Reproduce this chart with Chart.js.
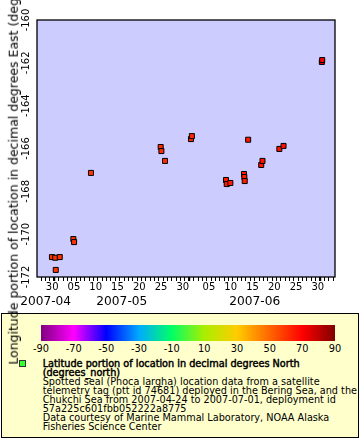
<!DOCTYPE html>
<html><head><meta charset="utf-8">
<script src="https://cdn.jsdelivr.net/npm/chart.js@4/dist/chart.umd.min.js"></script>
<style>
html,body{margin:0;padding:0;background:#fff;}
#wrap{position:relative;width:360px;height:440px;overflow:hidden;font-family:"DejaVu Sans",sans-serif;color:#000;}
#legendBox{position:absolute;left:1px;top:313px;width:358px;height:125px;box-sizing:border-box;border:1px solid #000;background:#ffffcc;}
#cbar{position:absolute;left:41px;top:325px;width:294px;height:16px;}
.cbl{position:absolute;top:343px;font-size:9.8px;line-height:12px;transform:translateX(-50%);white-space:nowrap;}
#mark{position:absolute;left:19px;top:360px;width:5px;height:5px;border:1px solid #333;background:#33ff33;}
#ltext{position:absolute;left:42.7px;top:358.5px;font-size:9.7px;line-height:9.05px;white-space:pre;}
#ltext div{height:9.05px;}
.b{-webkit-text-stroke:0.45px #000;}
#c{position:absolute;left:0;top:0;}
#yt{position:absolute;left:14px;top:148.5px;width:0;height:0;}
#yt div{position:absolute;left:0;top:0;white-space:nowrap;font-size:12.5px;line-height:1;transform:translate(-50%,-50%) rotate(-90deg);}
</style></head>
<body>
<div id="wrap">
  <div id="legendBox"></div>
  <div id="cbar"></div>
  <div id="cblabels"></div>
  <div id="mark"></div>
  <div id="ltext"></div>
  <canvas id="c" width="360" height="440"></canvas>
  <div id="yt"><div id="ytText"></div></div>
</div>
<script>
// ---------- data ----------
const dates = [
  "2007-04-30T11:00","2007-05-01T05:00","2007-05-01T08:00","2007-05-02T06:00",
  "2007-05-05T09:00","2007-05-05T13:00","2007-05-09T10:00",
  "2007-05-25T10:00","2007-05-25T14:00","2007-05-26T10:00",
  "2007-06-01T09:00","2007-06-01T14:00",
  "2007-06-09T10:00","2007-06-09T14:00","2007-06-10T10:00",
  "2007-06-13T13:00","2007-06-13T15:00","2007-06-13T17:00","2007-06-14T12:00",
  "2007-06-17T12:00","2007-06-17T19:00","2007-06-21T16:00","2007-06-22T15:00",
  "2007-07-01T10:00","2007-07-01T12:00"
];
const longitudes = [
  -171.07,-171.10,-171.67,-171.07,
  -170.23,-170.37,-167.14,
  -165.93,-166.12,-166.58,
  -165.56,-165.42,
  -167.47,-167.66,-167.61,
  -167.19,-167.33,-167.52,-165.59,
  -166.77,-166.58,-166.02,-165.88,
  -161.96,-161.87
];
const latitudes = [
  60,60,60,60,
  60,60,60,
  62,62,62,
  62.5,62.5,
  65,65,65,
  65,65,65,66,
  66,66,67,67,
  72,72
];
const yTicks = [-172,-170,-168,-166,-164,-162,-160];
const dayLabelDates = ["2007-04-30T12:00","2007-05-05T12:00","2007-05-10T12:00","2007-05-15T12:00","2007-05-20T12:00","2007-05-25T12:00","2007-05-30T12:00","2007-06-05T12:00","2007-06-10T12:00","2007-06-15T12:00","2007-06-20T12:00","2007-06-25T12:00","2007-06-30T12:00"];
const dayLabels = ["30","05","10","15","20","25","30","05","10","15","20","25","30"];
const monthStarts = ["2007-04-01T00:00","2007-05-01T00:00","2007-06-01T00:00","2007-07-01T00:00"];
const monthLabels = ["2007-04","2007-05","2007-06"];
const colorbarTicks = [-90,-70,-50,-30,-10,10,30,50,70,90];
const xRange = ["2007-04-27T00:40","2007-07-04T10:30"];
const yTitle = "Longitude portion of location in decimal degrees East (degrees_east)";
const legendTitle = ["Latitude portion of location in decimal degrees North","(degrees_north)"];
const legendLines = [
  "Spotted seal (Phoca largha) location data from a satellite",
  "telemetry tag (ptt id 74681) deployed in the Bering Sea, and the",
  "Chukchi Sea from 2007-04-24 to 2007-07-01, deployment id",
  "57a225c601fbb052222a8775",
  "Data courtesy of Marine Mammal Laboratory, NOAA Alaska",
  "Fisheries Science Center"
];
// ---------- palette (style) ----------
const palette = [[-90,'#800080'],[-70,'#ff00ff'],[-50,'#0000ff'],[-30,'#00aaff'],[-10,'#00ff66'],[10,'#aaee00'],[30,'#ffcc00'],[50,'#ff6600'],[70,'#ff0000'],[90,'#800000']];
function hex2rgb(h){return [parseInt(h.substr(1,2),16),parseInt(h.substr(3,2),16),parseInt(h.substr(5,2),16)];}
function colorFor(v){
  if (v<=palette[0][0]) return palette[0][1];
  for (let i=1;i<palette.length;i++){
    if (v<=palette[i][0]){
      const [v0,c0]=palette[i-1],[v1,c1]=palette[i];
      const f=(v-v0)/(v1-v0), a=hex2rgb(c0), b=hex2rgb(c1);
      return 'rgb('+a.map((x,k)=>Math.round(x+(b[k]-x)*f)).join(',')+')';
    }
  }
  return palette[palette.length-1][1];
}
// ---------- legend (HTML) ----------
document.getElementById('cbar').style.background = 'linear-gradient(to right,' +
  palette.map(p => p[1] + ' ' + ((p[0]+90)/180*100).toFixed(2) + '%').join(',') + ')';
const cbl = document.getElementById('cblabels');
colorbarTicks.forEach(v => {
  const s = document.createElement('span'); s.className='cbl';
  s.style.left = (41 + (v+90)/180*294) + 'px'; s.textContent = String(v); cbl.appendChild(s);
});
const lt = document.getElementById('ltext');
legendTitle.forEach(l => { const d=document.createElement('div'); d.className='b'; d.textContent=l; lt.appendChild(d); });
legendLines.forEach(l => { const d=document.createElement('div'); d.textContent=l; lt.appendChild(d); });
document.getElementById('ytText').textContent = yTitle;

// ---------- chart ----------
const t = s => Date.parse(s + 'Z');
const DAY = 86400000;
const xMin = t(xRange[0]), xMax = t(xRange[1]);
const monthStartVals = monthStarts.map(t);
const dayTicks = [];
for (let v = Math.ceil(xMin/DAY)*DAY; v <= xMax; v += DAY) dayTicks.push(v);
const isMonthStart = v => monthStartVals.includes(v);
const monthCenters = monthLabels.map((m,i) => {
  const a = Math.max(xMin, monthStartVals[i]), b = Math.min(xMax, monthStartVals[i+1]);
  return (a+b)/2;
});

Chart.defaults.font.family = "'DejaVu Sans', sans-serif";
Chart.defaults.color = '#000';

const plotFrame = {
  id: 'plotFrame',
  beforeDraw(chart){
    const {ctx, chartArea:a} = chart;
    ctx.save(); ctx.fillStyle = '#ccccff'; ctx.fillRect(a.left, a.top, a.width, a.height); ctx.restore();
  },
  beforeDatasetsDraw(chart){
    const {ctx, chartArea:a} = chart;
    ctx.save(); ctx.strokeStyle = '#000'; ctx.lineWidth = 1.3; ctx.strokeRect(a.left, a.top, a.width, a.height); ctx.restore();
  }
};

const tickW = c => (c.tick && isMonthStart(c.tick.value)) ? 2.2 : 1;

new Chart(document.getElementById('c'), {
  type: 'scatter',
  data: {
    datasets: [{
      data: dates.map((d,i) => ({x: t(d), y: longitudes[i]})),
      pointStyle: 'rect',
      pointRadius: 3.54,
      pointHoverRadius: 3.54,
      pointBackgroundColor: latitudes.map(colorFor),
      pointBorderColor: '#000',
      pointBorderWidth: 1,
      pointHoverBorderWidth: 1,
      showLine: false
    }]
  },
  options: {
    responsive: false,
    animation: false,
    events: [],
    layout: { padding: { top: 20, right: 25, bottom: 130, left: 0 } },
    plugins: { legend: { display: false }, tooltip: { enabled: false } },
    scales: {
      x: {
        type: 'linear', position: 'bottom', min: xMin, max: xMax, weight: 0,
        afterBuildTicks(s){ s.ticks = dayTicks.map(v => ({value: v})); },
        ticks: { display: false, autoSkip: false },
        grid: { display: true, drawOnChartArea: false, drawTicks: true, tickLength: 4, color: '#000', tickColor: '#000', lineWidth: tickW, tickWidth: tickW },
        border: { display: false },
        afterFit(s){ s.height = 4; }
      },
      xLab: {
        type: 'linear', position: 'bottom', min: xMin, max: xMax, weight: 1,
        afterBuildTicks(s){ s.ticks = dayLabelDates.map(d => ({value: t(d)})); },
        ticks: { autoSkip: false, minRotation: 0, maxRotation: 0, padding: 0.3, font: { size: 10 }, color: '#000',
                 callback: (v, i) => dayLabels[i] },
        grid: { display: false, drawTicks: false },
        border: { display: false },
        afterFit(s){ s.height = 12; }
      },
      xMon: {
        type: 'linear', position: 'bottom', min: xMin, max: xMax, weight: 2,
        afterBuildTicks(s){ s.ticks = monthCenters.map(v => ({value: v})); },
        ticks: { autoSkip: false, minRotation: 0, maxRotation: 0, padding: 1.4, font: { size: 12.2 }, color: '#000',
                 callback: (v, i) => monthLabels[i] },
        grid: { display: false, drawTicks: false },
        border: { display: false },
        afterFit(s){ s.height = 17; }
      },
      y: {
        type: 'linear', position: 'left', min: -172, max: -160,
        afterBuildTicks(s){ s.ticks = yTicks.map(v => ({value: v})); },
        ticks: { autoSkip: false, minRotation: 90, maxRotation: 90, crossAlign: 'center', padding: -0.6,
                 font: { size: 10 }, color: '#000', callback: v => String(v) },
        grid: { display: false, drawTicks: false },
        border: { display: false },
        afterFit(s){ s.width = 37; }
      }
    }
  },
  plugins: [plotFrame]
});
</script>
</body></html>
